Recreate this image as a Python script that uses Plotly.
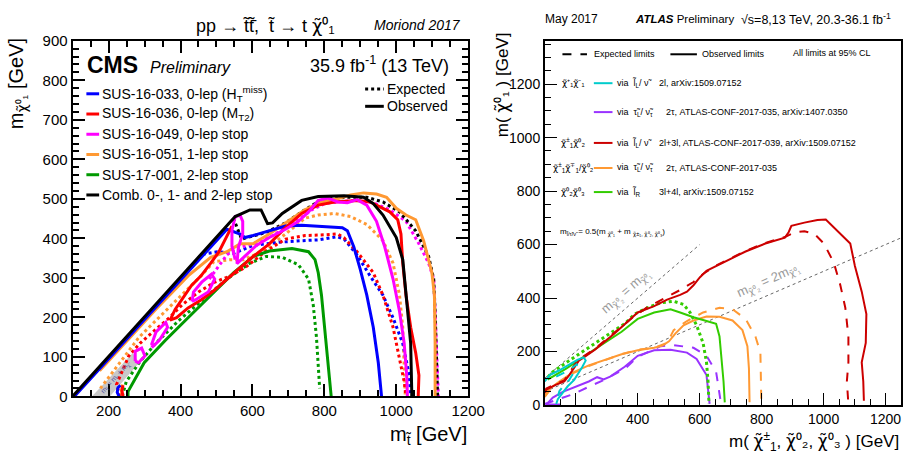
import plotly.graph_objects as go

W, H = 922, 466
def PX(x): return x / W
def PY(y): return 1 - y / H

# ---------------- LEFT (CMS) data ----------------
GREY_BAND_X = [154, 204, 285, 267]
GREY_BAND_Y = [0, 0, 85, 110]

BLUE_OBS_X = [105, 200, 300, 400, 500, 529, 566, 579, 602, 647, 692, 737, 783, 850, 864, 882, 900, 918, 936, 950, 959, None, 229, 224, 226, 233]
BLUE_OBS_Y = [0, 95, 195, 295, 395, 423, 411, 402, 407, 419, 431, 433, 431, 427, 419, 378, 321, 256, 175, 85, 0, None, 0, 10, 22, 28]
BLUE_EXP_X = [440, 457, 502, 548, 602, 674, 737, 783, 837, 855, 891, 927, 963, 991, 1018, 1036, 1040]
BLUE_EXP_Y = [338, 359, 366, 362, 382, 390, 394, 396, 404, 398, 358, 305, 256, 199, 134, 53, 0]

RED_OBS_X = [543, 525, 507, 484, 457, 430, 407, 385, 371, 389, 421, 457, 493, 529, 566, 602, 647, 692, 737, 783, 828, 891, 927, 954, 982, 1004, 1013, 1018, 1027, 1040, 1054, 1063, 1061, None, 240, 237, 240]
RED_OBS_Y = [431, 398, 366, 337, 305, 280, 248, 220, 193, 199, 224, 244, 268, 297, 325, 354, 386, 427, 463, 484, 492, 496, 492, 480, 467, 447, 411, 337, 256, 175, 110, 53, 0, None, 0, 14, 28]
RED_EXP_X = [232, 222, 256, 287, 323, 369, 405, 450, 495, 539, 584, 638, 692, 746, 801, 837, 855, 891, 936, 963, 991, 1009, 1022, 1027]
RED_EXP_Y = [0, 30, 102, 134, 163, 199, 232, 264, 289, 305, 329, 368, 398, 407, 409, 411, 401, 366, 313, 256, 175, 93, 37, 0]

MAG_OBS_X = [552, 543, 543, 552, 566, 573, 573, 561, 557, 579, 611, 647, 692, 728, 756, 783, 810, 837, 864, 891, 918, 945, 968, 991, 1009, 1022, 1029, 1031,
             None, 432, 436, 459, 486, 495, 477, 441, 432,
             None, 319, 332, 359, 364, 341, 323, 319,
             None, 274, 274, 292, 301, 283, 274]
MAG_OBS_Y = [346, 380, 420, 455, 458, 443, 411, 378, 336, 354, 382, 402, 423, 443, 467, 496, 502, 492, 490, 498, 484, 443, 378, 297, 215, 134, 53, 0,
             None, 240, 264, 289, 309, 297, 264, 244, 240,
             None, 130, 163, 187, 175, 142, 126, 130,
             None, 89, 114, 122, 102, 85, 89]
MAG_EXP_X = [480, 507, 529, 552, 584, 620, 656, 692, 728, 765, 801, 846, 891, 936, 982, 1027, 1063, 1090, 1104, 1108, 1113, 1117]
MAG_EXP_Y = [297, 329, 358, 374, 382, 390, 407, 427, 447, 472, 488, 493, 496, 490, 472, 443, 386, 337, 297, 215, 118, 0]

ORA_OBS_X = [175, 240, 331, 421, 484, 529, 566, 602, 615, 647, 692, 746, 792, 837, 873, 909, 945, 973, 1000, 1027, 1054, 1076, 1099, 1106, 1108, 1108, None, 238, 236, 238]
ORA_OBS_Y = [65, 130, 220, 305, 352, 366, 386, 386, 394, 411, 439, 472, 492, 500, 510, 515, 512, 504, 476, 459, 447, 394, 313, 256, 134, 0, None, 0, 15, 30]
ORA_EXP_X = [177, 285, 376, 457, 493, 539, 575, 611, 656, 692, 746, 783, 828, 873, 918, 963, 991, 1009, 1018, 1022, 1025]
ORA_EXP_Y = [20, 150, 232, 305, 341, 346, 346, 360, 386, 411, 451, 459, 463, 455, 435, 394, 337, 256, 175, 93, 0]

GRN_OBS_X = [254, 254, 299, 358, 421, 484, 548, 602, 647, 710, 756, 774, 783, 792, 801, 810, 819, 819]
GRN_OBS_Y = [0, 12, 85, 142, 199, 256, 313, 354, 368, 374, 366, 346, 313, 256, 175, 85, 12, 0]
GRN_EXP_X = [238, 249, 285, 331, 394, 457, 529, 593, 638, 683, 728, 756, 769, 778, 783, 787]
GRN_EXP_Y = [0, 37, 85, 134, 191, 240, 297, 337, 354, 352, 333, 297, 232, 150, 69, 20]

BLK_OBS_X = [100, 552, 593, 624, 642, 656, 683, 737, 783, 855, 909, 936, 963, 1000, 1018, 1031, 1040, 1043, 1043]
BLK_OBS_Y = [0, 455, 472, 472, 437, 439, 463, 496, 506, 508, 504, 488, 459, 402, 346, 215, 134, 12, 0]
BLK_EXP_X = [547, 570, 638, 692, 737, 774, 810, 864, 918, 963, 1009, 1054, 1090, 1104, 1108, 1113, 1115]
BLK_EXP_Y = [451, 398, 415, 439, 467, 488, 500, 504, 504, 492, 467, 419, 354, 297, 215, 93, 0]

LEFT_XTICKS = [200, 400, 600, 800, 1000, 1200]
LEFT_YTICKS = [0, 100, 200, 300, 400, 500, 600, 700, 800, 900]

LEFT_LEGEND = ["SUS-16-033, 0-lep (H<sub>T</sub><sup>miss</sup>)",
               "SUS-16-036, 0-lep (M<sub>T2</sub>)",
               "SUS-16-049, 0-lep stop",
               "SUS-16-051, 1-lep stop",
               "SUS-17-001, 2-lep stop",
               "Comb. 0-, 1- and 2-lep stop"]
LEFT_COLORS = ["#0000ff", "#ff0000", "#ff00ff", "#ff9933", "#009900", "#000000"]

# ---------------- RIGHT (ATLAS) data ----------------
CYAN_OBS_X = [100, 116, 147, 179, 205, 226, 232, 221, 208, 195, 174, 158, 142, 137]
CYAN_OBS_Y = [88, 112, 130, 150, 169, 178, 166, 142, 118, 94, 70, 46, 22, 4]
CYAN_EXP_X = [137, 179, 205, 195, 179, 163, 147, 142]
CYAN_EXP_Y = [106, 130, 154, 124, 94, 76, 52, 28]

PUR_OBS_X = [150, 105, 110, 126, 158, 200, 242, 269, 290, 311, 358, 400, 453, 506, 559, 590, 622, 632]
PUR_OBS_Y = [2, 2, 8, 28, 49, 68, 88, 104, 96, 106, 143, 184, 205, 207, 196, 172, 112, 4]
PUR_EXP_X = [100, 147, 190, 242, 295, 358, 400, 474, 516, 580, 622, 653, 669]
PUR_EXP_Y = [4, 22, 40, 68, 96, 135, 180, 220, 224, 214, 184, 124, 4]

ORR_OBS_X = [100, 116, 147, 190, 242, 295, 348, 400, 453, 480, 501, 522, 548, 580, 622, 664, 706, 738, 754, 759, 761]
ORR_OBS_Y = [35, 61, 88, 121, 148, 169, 190, 205, 214, 222, 238, 268, 298, 316, 331, 330, 316, 280, 220, 136, 10]
ORR_EXP_X = [100, 116, 147, 190, 242, 295, 348, 400, 453, 495, 516, 559, 611, 664, 706, 748, 780, 796, 799, 799]
ORR_EXP_Y = [30, 55, 84, 118, 146, 168, 190, 207, 214, 232, 280, 314, 346, 364, 358, 322, 256, 196, 88, 10]

GRR_OBS_X = [110, 116, 169, 221, 284, 348, 400, 453, 506, 537, 580, 622, 653, 664, 672, 677, 681]
GRR_OBS_Y = [95, 100, 136, 178, 226, 274, 322, 346, 358, 346, 328, 314, 304, 256, 160, 88, 10]
GRR_EXP_X = [110, 126, 179, 232, 295, 358, 390, 432, 474, 516, 548, 569, 590, 611, 622, 627, 630]
GRR_EXP_Y = [105, 124, 166, 208, 256, 304, 340, 364, 382, 388, 376, 346, 298, 232, 160, 88, 4]

RDR_OBS_X = [100, 105, 137, 163, 179, 195, 210, 226, 263, 326, 389, 400, 453, 495, 537, 559, 580, 601, 622, 685, 748, 812, 843, 875, 887, 896, 938, 980, 1007, 1043, 1086, 1101, 1123, 1138, 1136, 1123, 1128, 1130]
RDR_OBS_Y = [46, 58, 76, 88, 112, 142, 166, 178, 208, 268, 332, 346, 370, 394, 412, 424, 448, 478, 502, 538, 574, 604, 616, 626, 646, 670, 682, 692, 694, 652, 604, 520, 424, 340, 232, 160, 88, 16]
RDR_EXP_X = [100, 105, 137, 163, 179, 195, 210, 226, 263, 326, 389, 430, 474, 537, 580, 611, 650, 700, 748, 812, 843, 875, 906, 938, 970, 1001, 1033, 1054, 1070, 1080, 1080, 1075, 1080]
RDR_EXP_Y = [50, 62, 80, 92, 118, 148, 170, 182, 212, 272, 332, 365, 392, 430, 460, 490, 520, 548, 576, 606, 618, 628, 646, 650, 640, 604, 532, 448, 364, 256, 160, 88, 4]

DIAG1_X = [100, 600]
DIAG1_Y = [100, 600]
DIAG2_X = [100, 1250]
DIAG2_Y = [50, 625]

RIGHT_XTICKS = [200, 400, 600, 800, 1000, 1200]
RIGHT_YTICKS = [0, 200, 400, 600, 800, 1000, 1200]

fig = go.Figure()

def add(x, y, color, dash, width, xa="x", ya="y"):
    fig.add_trace(go.Scatter(x=x, y=y, mode="lines", xaxis=xa, yaxis=ya,
                             line=dict(color=color, dash=dash, width=width),
                             showlegend=False, hoverinfo="skip", connectgaps=False))

# grey band
fig.add_trace(go.Scatter(x=GREY_BAND_X + [GREY_BAND_X[0]], y=GREY_BAND_Y + [GREY_BAND_Y[0]],
                         fill="toself", fillcolor="#c8c8c8", mode="lines", line=dict(width=0, color="#c8c8c8"),
                         showlegend=False, hoverinfo="skip", xaxis="x", yaxis="y"))

LW = 3
DOT = "3px,3px"
add(GRN_EXP_X, GRN_EXP_Y, "#009900", DOT, LW)
add(ORA_EXP_X, ORA_EXP_Y, "#ff9933", DOT, LW)
add(BLUE_EXP_X, BLUE_EXP_Y, "#0000ff", DOT, LW)
add(RED_EXP_X, RED_EXP_Y, "#ff0000", DOT, LW)
add(MAG_EXP_X, MAG_EXP_Y, "#ff00ff", DOT, LW)
add(BLK_EXP_X, BLK_EXP_Y, "#000000", DOT, LW)
add(GRN_OBS_X, GRN_OBS_Y, "#009900", "solid", LW)
add(ORA_OBS_X, ORA_OBS_Y, "#ff9933", "solid", LW)
add(BLUE_OBS_X, BLUE_OBS_Y, "#0000ff", "solid", LW)
add(RED_OBS_X, RED_OBS_Y, "#ff0000", "solid", LW)
add(MAG_OBS_X, MAG_OBS_Y, "#ff00ff", "solid", LW)
add(BLK_OBS_X, BLK_OBS_Y, "#000000", "solid", LW)

# right panel
RW = 2
add(DIAG1_X, DIAG1_Y, "#666666", "dot", 1, "x2", "y2")
add(DIAG2_X, DIAG2_Y, "#666666", "dot", 1, "x2", "y2")
add(PUR_EXP_X, PUR_EXP_Y, "#9933ff", "dash", RW, "x2", "y2")
add(PUR_OBS_X, PUR_OBS_Y, "#9933ff", "solid", RW, "x2", "y2")
add(ORR_EXP_X, ORR_EXP_Y, "#ff9933", "dash", RW, "x2", "y2")
add(ORR_OBS_X, ORR_OBS_Y, "#ff9933", "solid", RW, "x2", "y2")
add(GRR_EXP_X, GRR_EXP_Y, "#33cc00", "dot", RW + 1, "x2", "y2")
add(GRR_OBS_X, GRR_OBS_Y, "#33cc00", "solid", RW, "x2", "y2")
add(RDR_EXP_X, RDR_EXP_Y, "#cc0000", "dash", RW, "x2", "y2")
add(RDR_OBS_X, RDR_OBS_Y, "#cc0000", "solid", RW, "x2", "y2")
add(CYAN_EXP_X, CYAN_EXP_Y, "#00cccc", "dash", RW, "x2", "y2")
add(CYAN_OBS_X, CYAN_OBS_Y, "#00cccc", "solid", RW, "x2", "y2")

FL = "Liberation Sans"
FN = "Liberation Sans Narrow, Liberation Sans"
ax_common = dict(showgrid=False, zeroline=False, showline=True, linecolor="black",
                 ticks="inside", tickcolor="black")
fig.update_layout(
    width=W, height=H, margin=dict(l=0, r=0, t=0, b=0), autosize=False,
    paper_bgcolor="white", plot_bgcolor="white",
    xaxis=dict(domain=[PX(74), PX(477)], range=[100, 1200], tickvals=LEFT_XTICKS,
               ticklen=12, tickwidth=1.5, linewidth=2, mirror="allticks", anchor="y",
               minor=dict(dtick=50, tick0=100, ticklen=6, ticks="inside", tickcolor="black"),
               tickfont=dict(family=FL, size=15, color="black"), **ax_common),
    yaxis=dict(domain=[PY(402), PY(33)], range=[0, 900], tickvals=LEFT_YTICKS,
               ticklen=12, tickwidth=1.5, linewidth=2, mirror="allticks", anchor="x",
               minor=dict(dtick=20, ticklen=6, ticks="inside", tickcolor="black"),
               tickfont=dict(family=FL, size=15, color="black"), **ax_common),
    xaxis2=dict(domain=[PX(555), PX(918)], range=[100, 1250], tickvals=RIGHT_XTICKS,
                ticklen=12, tickwidth=1.2, linewidth=1.5, mirror=True, anchor="y2",
                minor=dict(dtick=50, tick0=100, ticklen=6, ticks="inside", tickcolor="black"),
                tickfont=dict(family=FN, size=14, color="black"), **ax_common),
    yaxis2=dict(domain=[PY(411), PY(33)], range=[0, 1362], tickvals=RIGHT_YTICKS,
                ticklen=12, tickwidth=1.2, linewidth=1.5, mirror=True, anchor="x2",
                minor=dict(dtick=50, ticklen=6, ticks="inside", tickcolor="black"),
                tickfont=dict(family=FN, size=14, color="black"), **ax_common),
)

anns = []
def ann(x, y, text, size, family=FL, xanchor="left", yanchor="middle", color="black", angle=0, ref="paper"):
    d = dict(x=x, y=y, text=text, showarrow=False, xanchor=xanchor, yanchor=yanchor,
             font=dict(family=family, size=size, color=color), textangle=angle)
    if ref == "paper":
        d.update(xref="paper", yref="paper", x=PX(x), y=PY(y))
    else:
        d.update(xref=ref[0], yref=ref[1])
    anns.append(d)

shapes = []
def seg(x0, x1, y, color, dash="solid", width=3):
    shapes.append(dict(type="line", xref="paper", yref="paper", x0=PX(x0), x1=PX(x1), y0=PY(y), y1=PY(y),
                       line=dict(color=color, width=width, dash=dash)))

CHI = '<span style="font-family:DejaVu Sans">χ̃</span>'
PM = CHI + "<sup>±</sup><sub>1</sub>"
MP = CHI + "<sup>∓</sup><sub>1</sub>"

# ---- left texts
ann(270, 17, "pp → t̃t̃̄,  t̃ → t " + CHI + "⁰₁", 18, xanchor="center")
ann(472, 17, "<i>Moriond 2017</i>", 14, xanchor="right")
ann(87, 58, "<b>CMS</b>", 23)
ann(151, 61, "<i>Preliminary</i>", 16)
ann(459, 58, "35.9 fb<sup>-1</sup> (13 TeV)", 18, xanchor="right")
LEG_Y = [88, 109, 130, 151, 172, 193]
for t, c, yy in zip(LEFT_LEGEND, LEFT_COLORS, LEG_Y):
    seg(88, 101, yy, c)
    ann(102, yy, t, 14)
seg(372, 391, 83, "black", DOT)
ann(392, 83, "Expected", 14)
seg(372, 391, 101, "black")
ann(392, 101, "Observed", 14)
ann(18, 28, "m<sub>" + CHI + "⁰₁</sub> [GeV]", 20, xanchor="center", yanchor="top", angle=-90)
ann(478, 443, "m<sub>t̃</sub> [GeV]", 20, xanchor="right")
ann(220, 50, "m<sub>t̃</sub> = m<sub>t</sub> + m<sub>χ̃</sub>", 7, xanchor="center", color="#5050a0", angle=-48, ref=("x", "y"))

# ---- right texts
ann(553, 10, "May 2017", 12, family=FN)
ann(645, 10, "<b><i>ATLAS</i></b> Preliminary", 11.5, family=FN)
ann(753, 10, "√s=8,13 TeV, 20.3-36.1 fb<sup>-1</sup>", 12.5, family=FN)
seg(573, 598, 47, "black", "dash", 2)
ann(603, 47, "Expected limits", 9, family=FN)
seg(683, 710, 47, "black", "solid", 2)
ann(713, 47, "Observed limits", 9, family=FN)
ann(806, 46, "All limits at 95% CL", 9, family=FN)

RROWS = [
    (77, CHI + "⁺₁" + CHI + "⁻₁", "#00cccc", "via  l̃<sub>L</sub>/ ν̃", "2l, arXiv:1509.07152", 669),
    (107, "", "#9933ff", "via  τ̃<sub>L</sub>/ ν̃<sub>τ</sub>", "2τ, ATLAS-CONF-2017-035, arXiv:1407.0350", 676),
    (139, PM + CHI + "⁰₂", "#cc0000", "via  l̃<sub>L</sub>/ ν̃", "2l+3l, ATLAS-CONF-2017-039, arXiv:1509.07152", 669),
    (165, PM + MP + "/" + CHI + "⁰₂", "#ff9933", "via  τ̃<sub>L</sub>/ ν̃<sub>τ</sub>", "2τ, ATLAS-CONF-2017-035", 676),
    (190, CHI + "⁰₂" + CHI + "⁰₃", "#33cc00", "via  l̃<sub>R</sub>", "3l+4l, arXiv:1509.07152", 669),
]
for yy, lab, col, via, ref, xr in RROWS:
    if lab:
        ann(584, yy, lab, 9, family=FN, xanchor="center")
    seg(605, 624, yy, col, "solid", 2)
    ann(627, yy, via, 9, family=FN)
    ann(xr, yy, ref, 9, family=FN)
ann(568, 232, "m<sub>l̃/τ̃/ν̃</sub> = 0.5(m <sub>" + CHI + "⁰₁</sub> + m <sub>" + CHI + "±₁, " + CHI + "⁰₂, " + CHI + "⁰₃</sub>)", 8, family=FN)
ann(638, 293, "m<sub>" + CHI + "⁰₂</sub> = m<sub>" + CHI + "⁰₁</sub>", 13, family=FN, xanchor="center", color="#999999", angle=-41)
ann(783, 282, "m<sub>" + CHI + "⁰₂</sub> = 2m<sub>" + CHI + "⁰₁</sub>", 13, family=FN, xanchor="center", color="#999999", angle=-24)
ann(511, 22, "m( " + CHI + "⁰₁ ) [GeV]", 17, family=FN, xanchor="center", yanchor="top", angle=-90)
ann(918, 449, "m( " + PM + ", " + CHI + "⁰₂, " + CHI + "⁰₃ ) [GeV]", 17, family=FN, xanchor="right")

fig.update_layout(annotations=anns, shapes=shapes)
fig.write_html("out.html")
